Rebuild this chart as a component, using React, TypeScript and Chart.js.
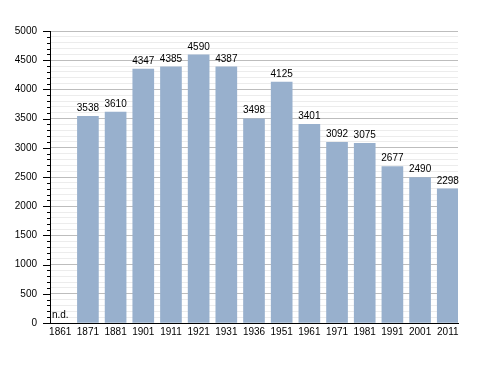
import React, { useEffect, useRef } from "react";
import { Chart, registerables } from "chart.js";

Chart.register(...registerables);

const years = ["1861", "1871", "1881", "1901", "1911", "1921", "1931", "1936", "1951", "1961", "1971", "1981", "1991", "2001", "2011"];
const population: (number | null)[] = [null, 3538, 3610, 4347, 4385, 4590, 4387, 3498, 4125, 3401, 3092, 3075, 2677, 2490, 2298];
const missingLabel = "n.d.";

const FONT = "'Liberation Sans', Arial, Helvetica, sans-serif";

const labelsPlugin = {
  id: "valueLabels",
  afterDatasetsDraw(chart: any) {
    const ctx = chart.ctx;
    const xs = chart.scales.x;
    const ys = chart.scales.y;
    ctx.save();
    ctx.font = `10px ${FONT}`;
    ctx.fillStyle = "#000";
    ctx.textAlign = "center";
    ctx.textBaseline = "bottom";
    population.forEach((v, i) => {
      const x = xs.getPixelForValue(i);
      if (v == null) {
        ctx.fillText(missingLabel, x, ys.getPixelForValue(0) - 3);
      } else {
        ctx.fillText(String(v), x, ys.getPixelForValue(v) - 3);
      }
    });
    // tick marks on y axis
    ctx.strokeStyle = "#000";
    ctx.lineWidth = 1;
    const left = chart.chartArea.left;
    ys.ticks.forEach((t: any) => {
      const y = Math.round(ys.getPixelForValue(t.value)) + 0.5;
      const major = t.value % 500 === 0;
      ctx.beginPath();
      ctx.moveTo(left - (major ? 7 : 3), y);
      ctx.lineTo(left, y);
      ctx.stroke();
    });
    ctx.restore();
  },
};

export default function App() {
  const ref = useRef<HTMLCanvasElement>(null);
  useEffect(() => {
    const chart = new Chart(ref.current!, {
      type: "bar",
      data: {
        datasets: [
          {
            data: population.map((v, i) => ({ x: i, y: v })) as any,
            backgroundColor: "#98b0cd",
            barThickness: 21,
          },
        ],
      },
      options: {
        animation: false,
        responsive: true,
        maintainAspectRatio: false,
        layout: { padding: { left: 0, right: 30, top: 31, bottom: 30 } },
        plugins: { legend: { display: false }, tooltip: { enabled: false } },
        scales: {
          x: {
            type: "linear",
            min: -0.37,
            max: 14.37,
            offset: false,
            grid: { display: false, drawTicks: false },
            border: { display: true, color: "#000", width: 1 },
            ticks: {
              stepSize: 1,
              includeBounds: false,
              autoSkip: false,
              maxRotation: 0,
              padding: 3,
              color: "#000",
              font: { family: FONT, size: 10 },
              callback: (v: any) => (Number.isInteger(v) && years[v] ? years[v] : ""),
            },
            afterFit: (s: any) => {
              s.height = 20;
            },
          },
          y: {
            min: 0,
            max: 5000,
            grid: {
              drawTicks: false,
              color: (c: any) => (c.tick && c.tick.value % 500 === 0 ? "#bdbdbd" : "#ececec"),
              lineWidth: 1,
            },
            border: { display: true, color: "#000", width: 1 },
            ticks: {
              stepSize: 100,
              autoSkip: false,
              padding: 13,
              color: "#000",
              font: { family: FONT, size: 10 },
              callback: (v: any) => (v % 500 === 0 ? String(v) : ""),
            },
            afterFit: (s: any) => {
              s.width = 50;
            },
          },
        },
      },
      plugins: [labelsPlugin],
    });
    return () => chart.destroy();
  }, []);
  return (
    <div style={{ position: "fixed", left: 0, top: 0, width: 488, height: 373, background: "#fff" }}>
      <canvas ref={ref} />
    </div>
  );
}
